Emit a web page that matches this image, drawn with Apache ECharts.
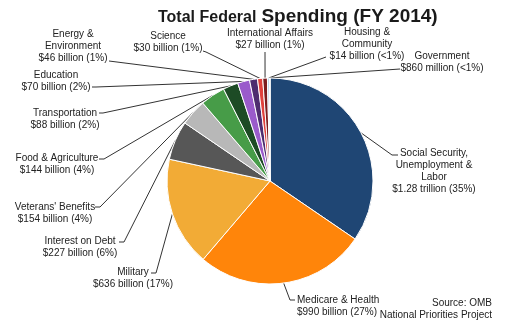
<!DOCTYPE html>
<html>
<head>
<meta charset="utf-8">
<script src="https://cdn.jsdelivr.net/npm/echarts@6/dist/echarts.min.js"></script>
<style>
  html, body { margin: 0; padding: 0; background: #fff; }
  #chart { width: 511px; height: 333px; }
</style>
</head>
<body>
<div id="chart"></div>
<script>
// Spending categories, clockwise from the top of the pie
const categories = [
  'Social Security,\nUnemployment &\nLabor',
  'Medicare & Health',
  'Military',
  'Interest on Debt',
  "Veterans' Benefits",
  'Food & Agriculture',
  'Transportation',
  'Education',
  'Energy &\nEnvironment',
  'Science',
  'International Affairs',
  'Housing &\nCommunity',
  'Government'
];

// Spending in billions of dollars
const amounts = [1280, 990, 636, 227, 154, 144, 88, 70, 46, 30, 27, 14, 0.86];

// Amount and share as written under each category name
const amountText = [
  '$1.28 trillion', '$990 billion', '$636 billion', '$227 billion', '$154 billion',
  '$144 billion', '$88 billion', '$70 billion', '$46 billion', '$30 billion',
  '$27 billion', '$14 billion', '$860 million'
];
const shareText = ['35%', '27%', '17%', '6%', '4%', '4%', '2%', '2%', '1%', '1%', '1%', '<1%', '<1%'];

const sliceColors = [
  '#1f4674', '#ff850a', '#f2ab36', '#575757', '#b8b8b8', '#479c48', '#1d4b25',
  '#9a5bcb', '#4e2d6f', '#e0413d', '#7c1d1f', '#bcd8ee', '#d9d9d9'
];

// Label placement: [x, top y, align, leader end points...]
const labelSpots = [
  [434, 147, 'center', [[392, 155], [398, 155]]],
  [297, 294, 'left',   [[290, 300], [295, 300]]],
  [133, 266, 'center', [[156, 273], [151, 273]]],
  [80, 235, 'center',  [[124, 242], [119, 242]]],
  [55, 201, 'center',  [[100, 207], [95, 207]]],
  [57, 152, 'center',  [[104, 159], [99, 159]]],
  [65, 107, 'center',  [[103, 113], [99, 113]]],
  [56, 69, 'center',   [[96, 87], [92, 87]]],
  [73, 28, 'center',   [[109, 61]]],
  [168, 30, 'center',  [[206, 52], [203, 51]]],
  [270, 27, 'center',  [[265, 52]]],
  [367, 26, 'center',  [[326, 57]]],
  [442, 50, 'center',  [[400, 69]]]
];

const sourceLines = ['Source: OMB', 'National Priorities Project'];

const pieData = categories.map((name, i) => ({
  name: name,
  value: amounts[i],
  itemStyle: { color: sliceColors[i] }
}));

const fontFamily = 'Liberation Sans, Arial, sans-serif';
const chart = echarts.init(document.getElementById('chart'), null, { renderer: 'canvas' });

chart.setOption({
  backgroundColor: '#ffffff',
  animation: false,
  title: {
    text: '{a|Total Federal} {b|Spending (FY 2014)}',
    left: 153,
    top: 2,
    textStyle: {
      rich: {
        a: { fontFamily: fontFamily, fontSize: 16, fontWeight: 'bold', color: '#1a1a1a', padding: [3, 0, 0, 0] },
        b: { fontFamily: fontFamily, fontSize: 19, fontWeight: 'bold', color: '#1a1a1a' }
      }
    }
  },
  graphic: [{
    type: 'text',
    x: 492,
    y: 297,
    style: {
      text: sourceLines.join('\n'),
      align: 'right',
      verticalAlign: 'top',
      font: '10px ' + fontFamily,
      lineHeight: 12,
      fill: '#222'
    }
  }],
  series: [{
    type: 'pie',
    center: [270, 181],
    radius: 103,
    startAngle: 90,
    clockwise: true,
    avoidLabelOverlap: false,
    data: pieData,
    itemStyle: { borderColor: '#ffffff', borderWidth: 1 },
    emphasis: { disabled: true },
    label: {
      show: true,
      position: 'outside',
      fontFamily: fontFamily,
      fontSize: 10,
      lineHeight: 12,
      color: '#222',
      formatter: p => p.name + '\n' + amountText[p.dataIndex] + ' (' + shareText[p.dataIndex] + ')'
    },
    labelLine: {
      show: true,
      length: 10,
      length2: 10,
      smooth: false,
      lineStyle: { color: '#333', width: 1 }
    },
    labelLayout: function (params) {
      const spot = labelSpots[params.dataIndex];
      const start = params.labelLinePoints ? params.labelLinePoints[0] : null;
      const out = {
        x: spot[0],
        y: spot[1],
        align: spot[2],
        verticalAlign: 'top'
      };
      if (start) {
        out.labelLinePoints = [start].concat(spot[3]);
      }
      return out;
    }
  }]
});
</script>
</body>
</html>
